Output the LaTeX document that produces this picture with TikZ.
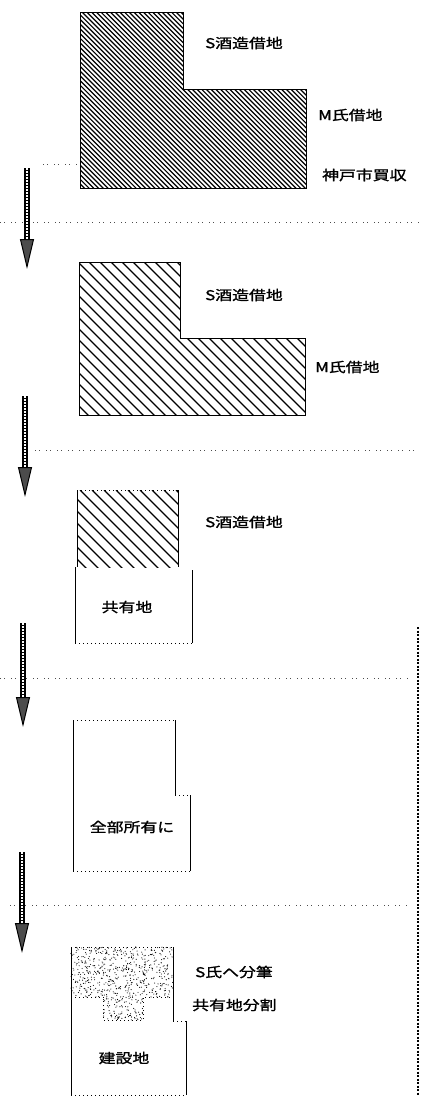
\documentclass[tikz,border=0pt]{standalone}
\usepackage{fontspec}
\newfontfamily\jp[FakeStretch=1.25,FakeBold=1.3]{Noto Sans CJK JP}
\usetikzlibrary{arrows.meta}
\begin{document}
\begin{tikzpicture}[x=1pt,y=-1pt,
  lbl/.style={font=\jp\fontsize{13.5}{15}\selectfont, inner sep=0pt, anchor=west},
  clbl/.style={font=\jp\fontsize{13.5}{15}\selectfont, inner sep=0pt},
  edge/.style={line width=0.7pt},
  dotedge/.style={line width=0.7pt, dash pattern=on 1pt off 3pt},
  sep/.style={line width=0.8pt, black!70, dash pattern=on 1pt off 3pt on 1pt off 6pt},
  flow/.style={line width=6pt, -{Triangle[length=30pt,width=14pt,line width=1pt,fill=black!70]}},
  flowstripe/.style={white, line width=2.4pt, dash pattern=on 1.5pt off 1.5pt, shorten >=30pt},
  hatch/.style={line width=1.2pt},
  stip/.style={black}]
\useasboundingbox (0,0) rectangle (421,1096);

% ---------- Panel 1 ----------
\begin{scope}
\clip (80,12) -- (183,12) -- (183,89) -- (306,89) -- (306,188) -- (80,188) -- cycle;
\foreach \c in {-120,-115.3,...,310} \draw[hatch] (\c,12) -- ++(200,200);
\end{scope}
\draw[edge] (80,12) -- (183,12) -- (183,89) -- (306,89) -- (306,188) -- (80,188) -- cycle;
\node[lbl] (s1) at (205,43) {S酒造借地};
\node[lbl] (m1) at (318,115) {M氏借地};
\node[lbl] (k1) at (322,175) {神戸市買収};
\coordinate (d1a) at (43,164);
\coordinate (d1b) at (78,164);
\draw[sep] (d1a) -- (d1b);

% ---------- Panel 2 ----------
\begin{scope}
\clip (79,262) -- (180,262) -- (180,338) -- (305,338) -- (305,415) -- (79,415) -- cycle;
\foreach \c in {-120,-109,...,310} \draw[hatch] (\c,262) -- ++(200,200);
\end{scope}
\draw[edge] (79,262) -- (180,262) -- (180,338) -- (305,338) -- (305,415) -- (79,415) -- cycle;
\node[lbl] (s2) at (205,295) {S酒造借地};
\node[lbl] (m2) at (315,367) {M氏借地};

% ---------- Panel 3 ----------
\begin{scope}
\clip (77,490) rectangle (178,567);
\foreach \c in {-40,-28,...,180} \draw[hatch] (\c,490) -- ++(120,120);
\end{scope}
\draw[dotedge] (77,490) -- (178,490);
\draw[edge] (77,490) -- (77,567);
\draw[edge] (178,490) -- (178,567);
\draw[edge] (75,567) -- (75,643);
\draw[edge] (192,570) -- (192,643);
\draw[dotedge] (75,643) -- (192,643);
\node[lbl] (s3) at (205,522) {S酒造借地};
\node[clbl] (c3) at (127,607) {共有地};

% ---------- Panel 4 ----------
\draw[dotedge] (73,720) -- (175,720);
\draw[edge] (73,720) -- (73,871);
\draw[edge] (175,720) -- (175,795);
\draw[dotedge] (175,795) -- (190,795);
\draw[edge] (190,795) -- (190,871);
\draw[dotedge] (73,871) -- (190,871);
\node[clbl] (z4) at (132,827) {全部所有に};

% ---------- Panel 5 ----------
\pgfmathsetseed{7}
\foreach \i in {1,...,550} \fill[stip] ({71+102*rnd},{947+50*rnd}) circle (0.55);
\foreach \i in {1,...,100} \fill[stip] ({103+40*rnd},{997+23*rnd}) circle (0.55);
\draw[dotedge] (71,947) -- (173,947);
\draw[edge] (71,947) -- (71,1095);
\draw[edge] (173,947) -- (173,1021);
\draw[dotedge] (173,1021) -- (186,1021);
\draw[edge] (186,1021) -- (186,1095);
\draw[dotedge] (71,1095) -- (186,1095);
\draw[dotedge] (71,997) -- (103,997) -- (103,1020) -- (143,1020) -- (143,997) -- (173,997);
\node[lbl] (s5) at (195,972) {S氏へ分筆};
\node[lbl] (b5) at (192,1005) {共有地分割};
\node[clbl] (k5) at (124,1058) {建設地};

% ---------- separators ----------
\coordinate (h1a) at (0,222);   \coordinate (h1b) at (421,222);
\coordinate (h2a) at (35,450);  \coordinate (h2b) at (415,450);
\coordinate (h3a) at (0,678);   \coordinate (h3b) at (410,678);
\coordinate (h4a) at (10,905);  \coordinate (h4b) at (410,905);
\draw[sep] (h1a) -- (h1b);
\draw[sep] (h2a) -- (h2b);
\draw[sep] (h3a) -- (h3b);
\draw[sep] (h4a) -- (h4b);
\coordinate (va) at (418,627);
\coordinate (vb) at (418,1096);
\draw[line width=1.2pt, dash pattern=on 2pt off 1.5pt] (va) -- (vb);

% ---------- arrows ----------
\coordinate (a1s) at (27,168); \coordinate (a1e) at (27,269);
\coordinate (a2s) at (25,396); \coordinate (a2e) at (25,497);
\coordinate (a3s) at (23,623); \coordinate (a3e) at (23,727);
\coordinate (a4s) at (22,852); \coordinate (a4e) at (22,953);
\foreach \a in {a1,a2,a3,a4}{
  \draw[flow] (\a s) -- (\a e);
  \draw[flowstripe] (\a s) -- (\a e);
}
\end{tikzpicture}
\end{document}
